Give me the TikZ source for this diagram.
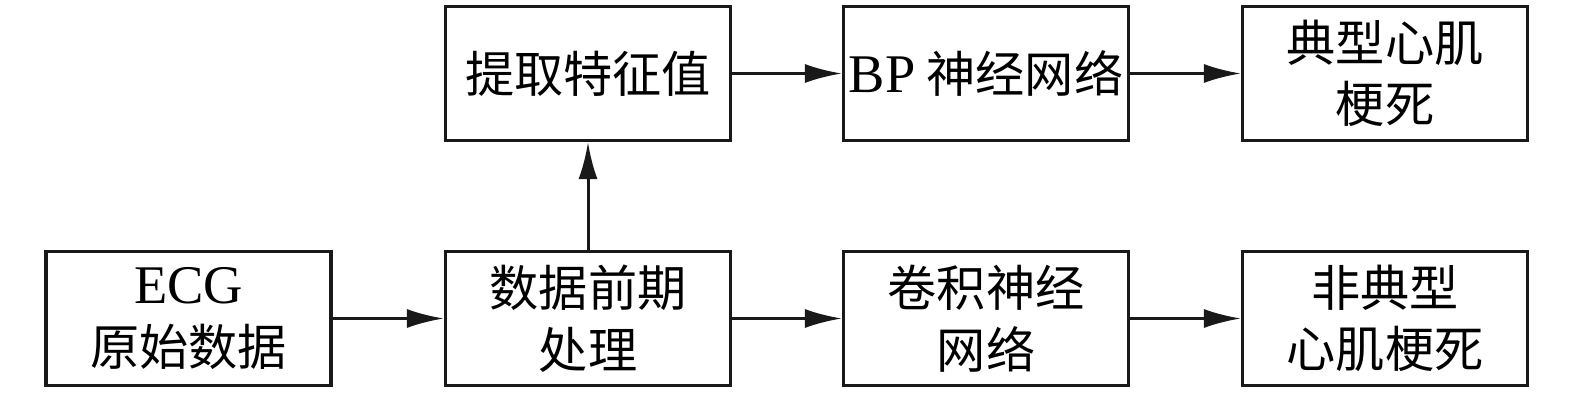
\documentclass[tikz,border=0pt]{standalone}
\usepackage{fontspec}
\setmainfont{Liberation Serif}
\newfontfamily\cjk{Noto Sans CJK SC}
\usetikzlibrary{arrows.meta}
\newcommand{\lat}[1]{{\fontsize{31}{35}\selectfont\rmfamily #1}}

\begin{document}
\begin{tikzpicture}[x=0.02cm,y=-0.02cm,line join=miter,
  box/.style={draw=black!90,line width=1.8pt,minimum width=5.7cm,minimum height=2.68cm,
    align=center,inner sep=0pt,font=\fontsize{28}{35}\selectfont\cjk},
  flow/.style={-{Latex[length=0.74cm,width=0.38cm]},line width=1.7pt,black!90}]
  \useasboundingbox (0,0) rectangle (1575,394);

  % ---- top row ----
  \node[box] (feat) at (588,73.5) {提取特征值};
  \node[box] (bp)   at (986,73.5) {\lat{BP} 神经网络};
  \node[box] (typ)  at (1385,73.5) {典型心肌\\梗死};

  % ---- bottom row ----
  \node[box] (ecg)  at (188.5,318.5) {\lat{ECG}\\原始数据};
  \node[box] (pre)  at (588,318.5) {数据前期\\处理};
  \node[box] (cnn)  at (986,318.5) {卷积神经\\网络};
  \node[box] (atyp) at (1385,318.5) {非典型\\心肌梗死};

  % ---- arrows ----
  \draw[flow] (ecg) -- (pre);
  \draw[flow] (pre) -- (feat);
  \draw[flow] (feat) -- (bp);
  \draw[flow] (bp) -- (typ);
  \draw[flow] (pre) -- (cnn);
  \draw[flow] (cnn) -- (atyp);
\end{tikzpicture}
\end{document}
